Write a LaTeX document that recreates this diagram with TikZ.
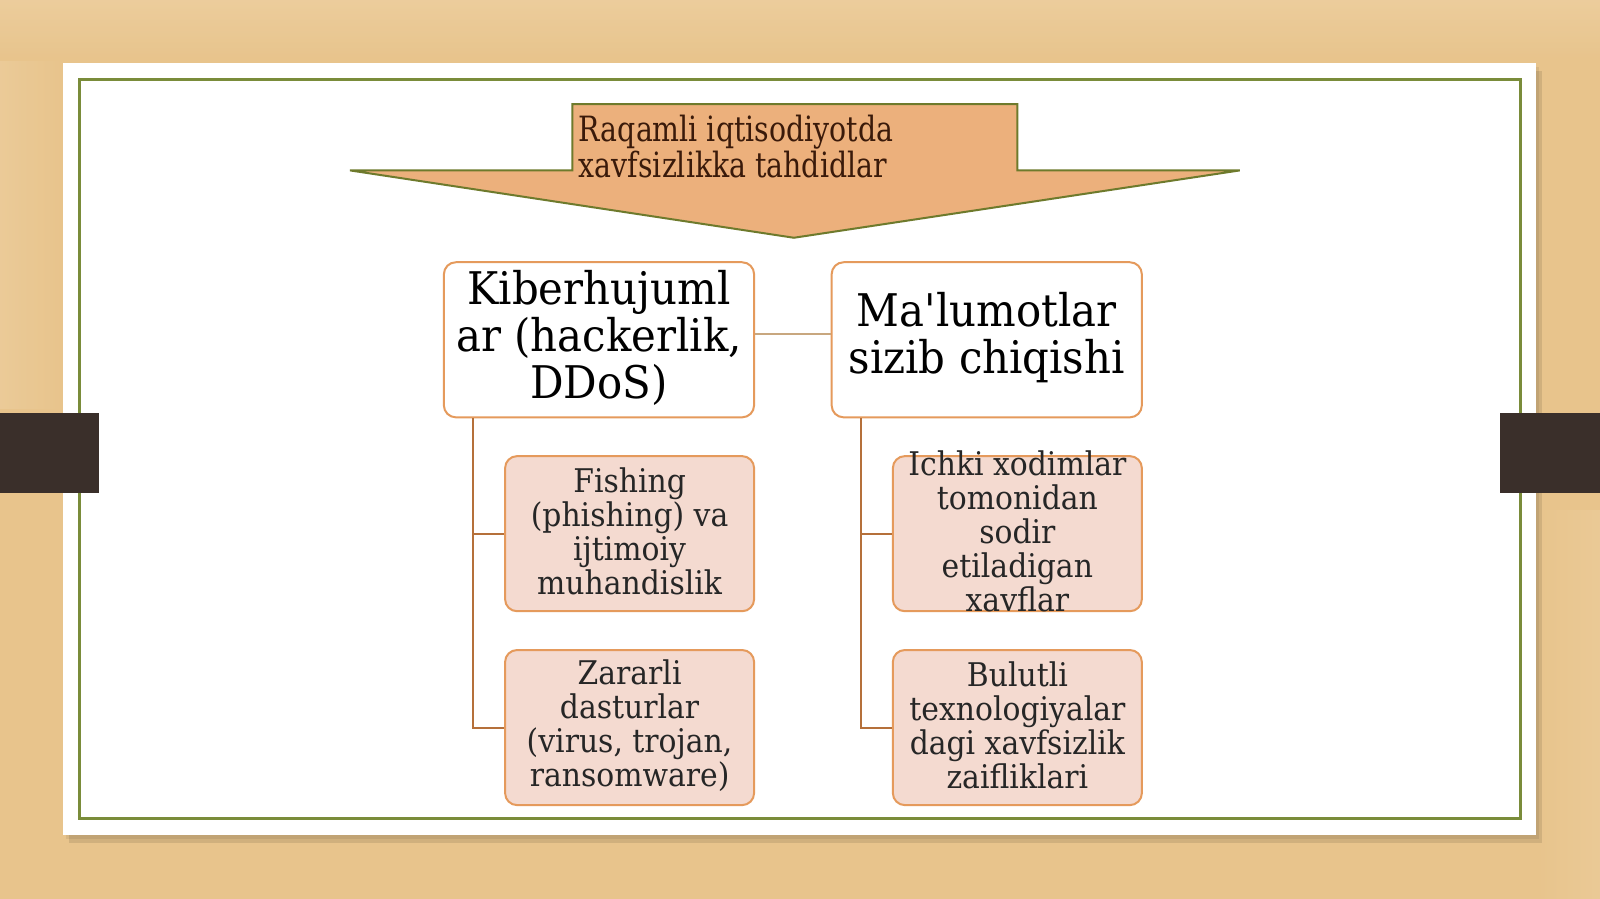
\documentclass[tikz,border=0pt]{standalone}
\usepackage{fontspec}
\setmainfont{DejaVu Serif}
\newfontfamily\mainboxfont[FakeStretch=0.93]{DejaVu Serif}
\newfontfamily\subboxfont[FakeStretch=0.915]{DejaVu Serif}
\newfontfamily\topfont[FakeStretch=0.815]{DejaVu Serif}
\usetikzlibrary{calc}
\definecolor{wood}{HTML}{E8C48C}
\definecolor{woodlight}{HTML}{EDCFA0}
\definecolor{tabdark}{HTML}{3A2F2A}
\definecolor{framegreen}{HTML}{7A8C3A}
\definecolor{arrowfill}{HTML}{ECB07C}
\definecolor{arrowline}{HTML}{6E7A2C}
\definecolor{txtbrown}{HTML}{3A1A0A}
\definecolor{boxline}{HTML}{E59A5C}
\definecolor{subfill}{HTML}{F4DAD0}
\definecolor{treeline}{HTML}{B5703A}
\definecolor{linkline}{HTML}{C8A77F}
\tikzset{
  mainbox/.style={draw=boxline, line width=1pt, fill=white, rounded corners=6pt,
    minimum width=155.1pt, minimum height=77.55pt, inner sep=0pt},
  subbox/.style={draw=boxline, line width=1pt, fill=subfill, rounded corners=6pt,
    minimum width=124.5pt, minimum height=77.55pt, inner sep=0pt},
  maintext/.style={align=center, text=black, inner sep=0pt,
    font=\mainboxfont\fontsize{22.5}{23.5}\selectfont},
  subtext/.style={align=center, text=black!85, inner sep=0pt,
    font=\subboxfont\fontsize{16.3}{17}\selectfont},
  tree/.style={draw=treeline, line width=1pt},
  link/.style={draw=linkline, line width=0.8pt}
}
\begin{document}
\begin{tikzpicture}[x=0.5102pt,y=-0.5102pt]
\useasboundingbox (0,0) rectangle (1568,881);
% background wood
\fill[wood] (0,0) rectangle (1568,881);
\shade[top color=woodlight, bottom color=wood, opacity=0.8] (0,0) rectangle (1568,60);
\shade[left color=woodlight, right color=wood, opacity=0.6] (0,60) rectangle (62,400);
\shade[left color=wood, right color=woodlight, opacity=0.5] (1505,500) rectangle (1568,881);
% slide shadow and frame
\fill[black, opacity=0.10] (68,70) rectangle (1511,826);
\fill[black, opacity=0.07] (65,66) rectangle (1508,822);
\fill[white] (62,62) rectangle (1505,818);
\draw[framegreen, line width=1.2pt] (78,78) rectangle (1490,802);
% tabs
\fill[tabdark] (0,405) rectangle (97,483);
\fill[tabdark] (1470,405) rectangle (1568,483);
% down arrow
\path[draw=arrowline, line width=1pt, fill=arrowfill]
  (561,102) -- (997,102) -- (997,167) -- (1215,167) -- (778,233)
  -- (343,167) -- (561,167) -- cycle;
\node[anchor=west, align=left, text=txtbrown, inner sep=0pt,
  font=\topfont\fontsize{17.4}{18}\selectfont] (title) at (567,144)
  {Raqamli iqtisodiyotda\\xavfsizlikka tahdidlar};
% main boxes
\node[mainbox] (kib) at (587,333) {};
\node[maintext] (kibt) at (587,331) {Kiberhujuml\\ar (hackerlik,\\DDoS)};
\node[mainbox] (mal) at (967,333) {};
\node[maintext] (malt) at (967,331) {Ma'lumotlar\\sizib chiqishi};
\draw[link] ([yshift=3pt]kib.east) -- ([yshift=3pt]mal.west);
% sub boxes
\node[subbox] (fis) at (617,523) {};
\node[subtext] (fist) at (617,521) {Fishing\\(phishing) va\\ijtimoiy\\muhandislik};
\node[subbox] (zar) at (617,713) {};
\node[subtext] (zart) at (617,711) {Zararli\\dasturlar\\(virus, trojan,\\ransomware)};
\node[subbox] (ich) at (997,523) {};
\node[subtext] (icht) at (997,521) {Ichki xodimlar\\tomonidan\\sodir\\etiladigan\\xavflar};
\node[subbox] (bul) at (997,713) {};
\node[subtext] (bult) at (997,711) {Bulutli\\texnologiyalar\\dagi xavfsizlik\\zaifliklari};
% tree connectors
\coordinate (kroot) at ($(kib.south west)+(30,0)$);
\coordinate (mroot) at ($(mal.south west)+(30,0)$);
\draw[tree] (kroot) |- (fis.west);
\draw[tree] (kroot) |- (zar.west);
\draw[tree] (mroot) |- (ich.west);
\draw[tree] (mroot) |- (bul.west);
\end{tikzpicture}
\end{document}
